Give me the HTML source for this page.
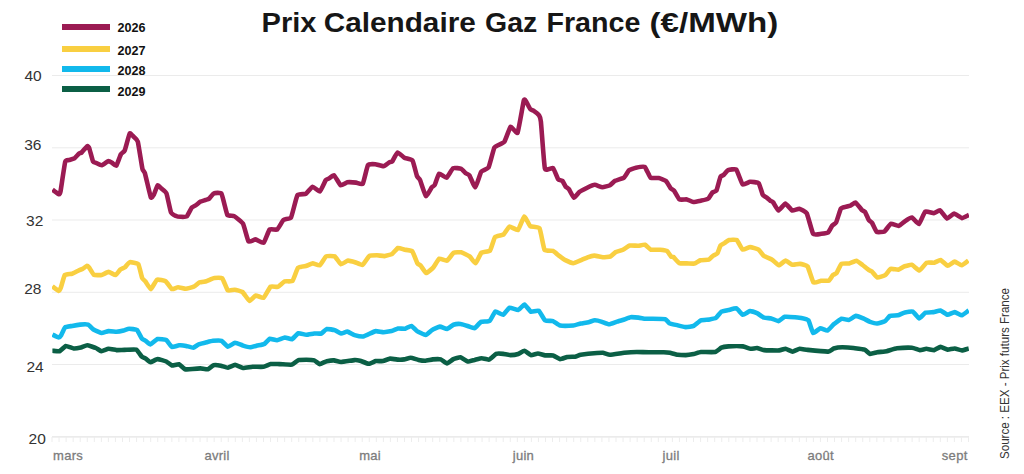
<!DOCTYPE html>
<html><head><meta charset="utf-8"><style>
html,body{margin:0;padding:0;background:#fff;}
body{width:1024px;height:474px;overflow:hidden;}
svg{display:block;font-family:"Liberation Sans",sans-serif;}
.yl{font-size:15.5px;fill:#333;}
.xl{font-size:13px;fill:#7c7c7c;stroke:#7c7c7c;stroke-width:0.3px;letter-spacing:0.3px;}
.lg{font-size:12.5px;font-weight:bold;fill:#111;}
.tt{font-size:27px;font-weight:bold;fill:#161616;}
.src{font-size:13px;fill:#333;}
</style></head><body>
<svg width="1024" height="474" viewBox="0 0 1024 474">
<line x1="52" y1="75.5" x2="969" y2="75.5" stroke="#ebebeb" stroke-width="1"/>
<line x1="52" y1="147.8" x2="969" y2="147.8" stroke="#ebebeb" stroke-width="1"/>
<line x1="52" y1="220.0" x2="969" y2="220.0" stroke="#ebebeb" stroke-width="1"/>
<line x1="52" y1="292.3" x2="969" y2="292.3" stroke="#ebebeb" stroke-width="1"/>
<line x1="52" y1="364.5" x2="969" y2="364.5" stroke="#ebebeb" stroke-width="1"/>
<text x="41.7" y="81.1" class="yl" text-anchor="end">40</text>
<text x="41.4" y="150.3" class="yl" text-anchor="end">36</text>
<text x="43.3" y="225.6" class="yl" text-anchor="end">32</text>
<text x="41.4" y="294.2" class="yl" text-anchor="end">28</text>
<text x="43.7" y="372" class="yl" text-anchor="end">24</text>
<text x="45.8" y="444" class="yl" text-anchor="end">20</text>
<line x1="52" y1="436.8" x2="969" y2="436.8" stroke="#e4e4e4" stroke-width="1.2"/>
<path d="M52.00,437 V442 M59.05,437 V442 M66.10,437 V442 M73.15,437 V442 M80.20,437 V442 M87.25,437 V442 M94.30,437 V442 M101.35,437 V442 M108.40,437 V442 M115.45,437 V442 M122.50,437 V442 M129.55,437 V442 M136.60,437 V442 M143.65,437 V442 M150.70,437 V442 M157.75,437 V442 M164.80,437 V442 M171.85,437 V442 M178.90,437 V442 M185.95,437 V442 M193.00,437 V442 M200.05,437 V442 M207.10,437 V442 M214.15,437 V442 M221.20,437 V442 M228.25,437 V442 M235.30,437 V442 M242.35,437 V442 M249.40,437 V442 M256.45,437 V442 M263.50,437 V442 M270.55,437 V442 M277.60,437 V442 M284.65,437 V442 M291.70,437 V442 M298.75,437 V442 M305.80,437 V442 M312.85,437 V442 M319.90,437 V442 M326.95,437 V442 M334.00,437 V442 M341.05,437 V442 M348.10,437 V442 M355.15,437 V442 M362.20,437 V442 M369.25,437 V442 M376.30,437 V442 M383.35,437 V442 M390.40,437 V442 M397.45,437 V442 M404.50,437 V442 M411.55,437 V442 M418.60,437 V442 M425.65,437 V442 M432.70,437 V442 M439.75,437 V442 M446.80,437 V442 M453.85,437 V442 M460.90,437 V442 M467.95,437 V442 M475.00,437 V442 M482.05,437 V442 M489.10,437 V442 M496.15,437 V442 M503.20,437 V442 M510.25,437 V442 M517.30,437 V442 M524.35,437 V442 M531.40,437 V442 M538.45,437 V442 M545.50,437 V442 M552.55,437 V442 M559.60,437 V442 M566.65,437 V442 M573.70,437 V442 M580.75,437 V442 M587.80,437 V442 M594.85,437 V442 M601.90,437 V442 M608.95,437 V442 M616.00,437 V442 M623.05,437 V442 M630.10,437 V442 M637.15,437 V442 M644.20,437 V442 M651.25,437 V442 M658.30,437 V442 M665.35,437 V442 M672.40,437 V442 M679.45,437 V442 M686.50,437 V442 M693.55,437 V442 M700.60,437 V442 M707.65,437 V442 M714.70,437 V442 M721.75,437 V442 M728.80,437 V442 M735.85,437 V442 M742.90,437 V442 M749.95,437 V442 M757.00,437 V442 M764.05,437 V442 M771.10,437 V442 M778.15,437 V442 M785.20,437 V442 M792.25,437 V442 M799.30,437 V442 M806.35,437 V442 M813.40,437 V442 M820.45,437 V442 M827.50,437 V442 M834.55,437 V442 M841.60,437 V442 M848.65,437 V442 M855.70,437 V442 M862.75,437 V442 M869.80,437 V442 M876.85,437 V442 M883.90,437 V442 M890.95,437 V442 M898.00,437 V442 M905.05,437 V442 M912.10,437 V442 M919.15,437 V442 M926.20,437 V442 M933.25,437 V442 M940.30,437 V442 M947.35,437 V442 M954.40,437 V442 M961.45,437 V442 M968.50,437 V442" stroke="#ededed" stroke-width="1" fill="none"/>
<text x="53.0" y="460" class="xl">mars</text>
<text x="204.4" y="460" class="xl">avril</text>
<text x="359.2" y="460" class="xl">mai</text>
<text x="512.7" y="460" class="xl">juin</text>
<text x="662.5" y="460" class="xl">juil</text>
<text x="807.4" y="460" class="xl">août</text>
<text x="941.8" y="460" class="xl">sept</text>
<defs><clipPath id="pc"><rect x="52" y="0" width="917" height="474"/></clipPath></defs><g clip-path="url(#pc)">
<path d="M52.4,350.7 C52.9,350.7 58.6,351.5 59.5,351.2 C60.4,350.9 64.9,346.2 65.8,346.0 C66.7,345.8 72.7,348.4 73.7,348.5 C74.7,348.6 80.0,347.7 80.9,347.5 C81.8,347.3 86.2,345.3 87.2,345.3 C88.2,345.3 95.0,347.6 95.9,348.0 C96.8,348.4 100.6,351.1 101.4,351.2 C102.2,351.3 107.5,348.9 108.5,348.8 C109.5,348.7 115.4,350.0 116.5,350.1 C117.6,350.2 123.1,349.9 124.4,349.9 C125.7,349.9 135.0,349.1 136.2,349.6 C137.4,350.1 141.2,356.1 141.8,356.7 C142.4,357.3 145.1,358.2 145.7,358.6 C146.3,359.0 149.7,362.2 150.5,362.2 C151.3,362.2 156.5,359.1 157.6,359.1 C158.7,359.1 165.4,361.1 166.3,361.5 C167.2,361.9 171.0,365.2 171.8,365.4 C172.6,365.6 178.1,364.0 179.0,364.3 C179.9,364.6 184.1,368.9 185.0,369.2 C185.9,369.5 191.4,369.1 192.4,369.0 C193.4,368.9 199.3,368.4 200.3,368.4 C201.3,368.4 207.1,369.5 208.0,369.3 C208.9,369.1 212.6,365.4 213.5,365.2 C214.4,365.0 219.8,365.5 220.8,365.7 C221.8,365.9 226.9,367.8 227.9,367.7 C228.9,367.6 234.1,364.9 235.1,364.9 C236.1,364.9 241.8,367.9 243.0,368.0 C244.2,368.1 251.1,366.9 252.5,366.8 C253.9,366.7 262.3,367.0 263.5,366.8 C264.7,366.6 269.6,364.3 270.7,364.1 C271.8,363.9 278.0,364.1 279.4,364.1 C280.8,364.1 290.7,364.9 292.0,364.6 C293.3,364.3 297.4,360.4 298.4,360.1 C299.4,359.8 305.2,359.7 306.3,359.7 C307.4,359.7 313.3,360.1 314.2,360.4 C315.1,360.7 318.9,364.0 319.7,364.1 C320.5,364.2 325.8,361.4 326.8,361.2 C327.8,361.0 333.0,360.3 334.0,360.4 C335.0,360.5 339.7,362.0 341.1,362.0 C342.5,362.0 353.2,360.2 354.5,360.1 C355.8,360.0 359.1,360.5 360.0,360.7 C360.9,360.9 367.6,363.8 368.7,363.8 C369.8,363.8 374.9,361.3 375.8,361.1 C376.7,360.9 381.9,361.3 382.9,361.1 C383.9,360.9 389.1,358.7 390.1,358.6 C391.1,358.5 397.1,359.5 398.0,359.6 C398.9,359.7 403.5,359.5 404.3,359.4 C405.1,359.3 409.7,357.8 410.6,357.8 C411.5,357.8 417.5,359.7 418.5,359.9 C419.5,360.1 423.9,360.7 424.9,360.7 C425.9,360.7 431.7,359.5 432.8,359.4 C433.9,359.3 439.8,359.1 440.7,359.4 C441.6,359.7 446.2,363.4 447.0,363.4 C447.8,363.4 452.5,359.5 453.4,359.1 C454.3,358.7 459.6,357.0 460.5,357.2 C461.4,357.4 466.7,361.3 467.6,361.5 C468.5,361.7 473.8,360.1 474.7,359.9 C475.6,359.7 480.8,358.3 481.8,358.3 C482.8,358.3 488.0,359.9 489.0,359.6 C490.0,359.3 495.2,354.3 496.1,353.9 C497.0,353.5 502.3,353.8 503.2,353.9 C504.1,354.0 509.3,355.1 510.3,355.1 C511.3,355.1 517.3,354.3 518.2,354.0 C519.1,353.7 523.7,350.6 524.5,350.7 C525.3,350.8 529.9,354.9 530.8,355.1 C531.7,355.3 536.9,353.5 537.9,353.5 C538.9,353.5 544.1,355.3 545.1,355.4 C546.1,355.5 552.0,355.2 553.0,355.4 C554.0,355.6 559.2,359.0 560.1,359.1 C561.0,359.2 566.2,357.2 567.2,357.0 C568.2,356.8 574.2,356.8 575.1,356.7 C576.0,356.6 579.4,355.0 580.7,354.8 C582.0,354.6 592.6,353.3 594.1,353.2 C595.6,353.1 601.7,352.7 602.8,352.8 C603.9,352.9 608.5,354.8 609.9,354.8 C611.3,354.8 622.4,353.0 624.2,352.8 C626.0,352.6 635.1,352.0 636.8,352.0 C638.5,352.0 647.7,352.3 649.5,352.3 C651.3,352.3 662.3,352.3 663.7,352.3 C665.1,352.3 669.1,352.6 670.0,352.8 C670.9,353.0 676.8,354.5 677.9,354.7 C679.0,354.9 684.7,355.1 685.8,355.1 C686.9,355.1 692.7,354.2 693.7,354.0 C694.7,353.8 699.5,352.1 700.9,352.0 C702.3,351.9 713.7,352.3 715.1,352.0 C716.5,351.7 720.5,348.1 721.4,347.7 C722.3,347.3 727.1,346.5 728.5,346.4 C729.9,346.3 741.3,346.2 742.8,346.4 C744.3,346.6 749.8,348.7 750.7,348.8 C751.6,348.9 756.1,347.9 757.0,348.0 C757.9,348.1 762.6,349.9 764.1,350.1 C765.6,350.3 777.8,350.5 779.2,350.4 C780.6,350.3 784.6,348.7 785.5,348.8 C786.4,348.9 791.7,351.6 792.6,351.6 C793.5,351.6 798.7,348.9 799.7,348.8 C800.7,348.7 805.8,349.7 807.7,349.9 C809.6,350.1 826.5,351.7 828.2,351.6 C829.9,351.5 832.8,348.8 833.7,348.5 C834.6,348.2 841.1,347.2 842.4,347.2 C843.7,347.2 852.0,347.8 853.5,348.0 C855.0,348.2 863.5,349.2 864.6,349.6 C865.7,350.0 869.3,353.7 870.1,353.9 C870.9,354.1 876.1,352.5 877.2,352.3 C878.3,352.1 885.4,351.5 886.7,351.2 C888.0,350.9 895.3,348.5 897.0,348.3 C898.7,348.1 910.5,347.6 912.0,347.7 C913.5,347.8 918.9,350.0 919.9,350.1 C920.9,350.2 925.3,348.8 926.3,348.8 C927.3,348.8 933.3,350.2 934.2,350.1 C935.1,350.0 939.6,346.9 940.5,346.9 C941.4,346.9 946.7,349.5 947.6,349.6 C948.5,349.7 953.7,348.4 954.7,348.5 C955.7,348.6 961.0,350.4 961.9,350.4 C962.8,350.4 968.2,348.6 968.7,348.5" stroke="#0b5f45" stroke-width="4.6" fill="none" stroke-linejoin="round" stroke-linecap="butt"/>
<path d="M52.4,334.6 C52.8,334.8 58.1,337.4 58.7,337.4 C59.3,337.4 60.7,336.0 61.1,335.3 C61.5,334.6 64.3,328.0 65.0,327.4 C65.7,326.8 71.2,326.1 72.2,325.9 C73.2,325.7 79.0,324.7 80.1,324.6 C81.2,324.5 87.1,324.3 88.0,324.6 C88.9,324.9 92.6,328.9 93.5,329.5 C94.4,330.1 100.4,332.9 101.4,333.0 C102.4,333.1 107.5,331.2 108.5,331.1 C109.5,331.0 115.5,331.7 116.5,331.7 C117.5,331.7 122.8,330.8 123.6,330.6 C124.4,330.4 128.2,328.7 129.1,328.7 C130.0,328.7 136.2,329.4 137.0,330.1 C137.8,330.8 141.2,337.8 141.8,338.5 C142.4,339.2 145.1,340.5 145.7,340.9 C146.3,341.3 149.7,344.5 150.5,344.4 C151.3,344.3 156.5,339.3 157.6,339.0 C158.7,338.7 165.4,339.6 166.3,340.1 C167.2,340.6 171.0,346.6 171.8,346.9 C172.6,347.2 178.0,345.4 179.0,345.3 C180.0,345.2 185.2,345.7 186.1,345.9 C187.0,346.1 192.4,347.8 193.2,347.7 C194.0,347.6 197.9,344.7 198.7,344.4 C199.5,344.1 204.1,342.9 205.0,342.7 C205.9,342.5 211.8,340.9 212.9,340.8 C214.0,340.7 220.6,340.4 221.6,340.8 C222.6,341.2 227.0,346.6 227.9,346.7 C228.8,346.8 234.1,342.8 235.1,342.7 C236.1,342.6 242.0,345.3 243.0,345.6 C244.0,345.9 249.2,347.2 250.1,347.2 C251.0,347.2 256.3,345.8 257.2,345.6 C258.1,345.4 263.5,344.5 264.3,344.0 C265.1,343.5 269.1,339.0 269.9,338.8 C270.7,338.6 276.0,340.4 277.0,340.3 C278.0,340.2 283.9,337.6 284.9,337.5 C285.9,337.4 291.1,339.5 292.0,339.2 C292.9,338.9 297.4,333.5 298.4,333.2 C299.4,332.9 305.2,334.8 306.3,334.8 C307.4,334.8 313.2,333.6 314.2,333.5 C315.2,333.4 320.5,333.8 321.3,333.5 C322.1,333.2 325.9,329.2 326.8,329.0 C327.7,328.8 333.7,329.8 334.7,330.1 C335.7,330.4 340.3,333.4 341.1,333.5 C341.9,333.6 346.5,331.5 347.4,331.6 C348.3,331.7 353.4,334.8 354.5,335.1 C355.6,335.4 362.2,336.6 363.2,336.5 C364.2,336.4 368.7,334.2 369.5,333.8 C370.3,333.4 374.9,331.2 375.8,331.1 C376.7,331.0 382.6,332.2 383.7,332.2 C384.8,332.2 390.6,331.3 391.6,331.1 C392.6,330.9 397.1,328.7 398.0,328.5 C398.9,328.3 404.2,328.9 405.1,328.7 C406.0,328.5 410.6,325.7 411.4,325.9 C412.2,326.1 416.0,330.5 417.0,331.1 C418.0,331.7 424.7,335.0 425.7,334.9 C426.7,334.8 431.1,330.7 432.0,330.1 C432.9,329.5 438.9,326.7 439.9,326.6 C440.9,326.5 446.1,329.1 447.0,329.0 C447.9,328.9 452.5,325.0 453.4,324.7 C454.3,324.4 459.5,323.9 460.5,324.0 C461.5,324.1 467.5,326.0 468.4,326.3 C469.3,326.6 473.9,328.5 474.7,328.2 C475.5,327.9 480.0,322.4 481.0,321.9 C482.0,321.4 488.7,321.5 489.7,320.8 C490.7,320.1 494.4,312.0 495.3,311.6 C496.2,311.2 502.3,315.1 503.2,314.8 C504.1,314.5 508.5,308.0 509.5,307.7 C510.5,307.4 517.2,310.2 518.2,310.0 C519.2,309.8 523.7,304.4 524.5,304.5 C525.3,304.6 529.9,311.2 530.8,311.6 C531.7,312.0 537.7,310.2 538.7,310.8 C539.7,311.4 544.1,319.6 545.1,320.3 C546.1,321.0 552.0,320.8 553.0,321.1 C554.0,321.4 558.7,325.2 560.1,325.5 C561.5,325.8 572.1,325.6 573.5,325.5 C574.9,325.4 579.7,323.7 580.7,323.5 C581.7,323.3 587.7,322.4 588.6,322.2 C589.5,322.0 594.0,320.3 594.9,320.3 C595.8,320.3 601.1,321.6 602.0,321.9 C602.9,322.2 608.1,324.3 609.1,324.3 C610.1,324.3 616.1,321.9 617.1,321.6 C618.1,321.3 623.3,319.8 624.2,319.5 C625.1,319.2 629.6,317.3 630.5,317.2 C631.4,317.1 637.4,317.5 638.4,317.6 C639.4,317.7 644.5,318.6 645.5,318.7 C646.5,318.8 651.4,318.7 652.7,318.7 C654.0,318.7 664.2,318.9 665.3,319.2 C666.4,319.5 668.5,322.8 669.3,323.2 C670.1,323.6 676.8,325.1 677.9,325.4 C679.0,325.7 684.7,327.1 685.8,327.1 C686.9,327.1 692.7,326.4 693.7,325.9 C694.7,325.4 699.8,320.7 700.9,320.3 C702.0,319.9 708.6,319.7 709.6,319.5 C710.6,319.3 715.1,318.4 715.9,317.9 C716.7,317.4 720.6,312.1 721.4,311.6 C722.2,311.1 727.5,310.2 728.5,310.0 C729.5,309.8 735.5,308.1 736.5,308.4 C737.5,308.7 741.9,314.6 742.8,314.8 C743.7,315.0 749.0,311.2 749.9,311.1 C750.8,311.0 756.1,312.8 757.0,313.2 C757.9,313.6 763.1,317.3 764.1,317.6 C765.1,317.9 770.3,318.2 771.3,318.4 C772.3,318.6 777.5,321.2 778.4,321.1 C779.3,321.0 783.6,317.1 784.7,316.8 C785.8,316.5 793.9,317.1 795.0,317.2 C796.1,317.3 800.4,317.7 801.3,317.9 C802.2,318.1 807.6,319.3 808.4,320.3 C809.2,321.3 812.4,332.5 813.2,333.0 C814.0,333.5 819.4,328.4 820.3,328.2 C821.2,328.0 826.5,330.9 827.4,330.6 C828.3,330.3 832.8,325.1 833.7,324.3 C834.6,323.5 840.6,319.0 841.6,318.7 C842.6,318.4 847.7,320.2 848.7,320.0 C849.7,319.8 854.9,316.0 855.9,315.9 C856.9,315.8 862.9,318.3 863.8,318.7 C864.7,319.1 869.2,321.6 870.1,321.9 C871.0,322.2 876.2,323.6 877.2,323.5 C878.2,323.4 884.3,321.6 885.1,321.1 C885.9,320.6 889.1,316.3 889.9,315.9 C890.7,315.5 896.8,315.5 897.8,315.3 C898.8,315.1 903.9,312.6 904.9,312.4 C905.9,312.2 911.9,311.2 912.8,311.6 C913.7,312.0 918.3,318.3 919.1,318.4 C919.9,318.5 924.5,313.1 925.5,312.7 C926.5,312.3 932.4,312.2 933.4,312.1 C934.4,312.0 939.6,310.3 940.5,310.5 C941.4,310.7 946.7,314.7 947.6,314.8 C948.5,314.9 953.7,312.1 954.7,312.1 C955.7,312.1 961.0,315.4 961.9,315.3 C962.8,315.2 968.2,310.8 968.7,310.5" stroke="#12b9ec" stroke-width="4.6" fill="none" stroke-linejoin="round" stroke-linecap="butt"/>
<path d="M52.3,286.3 C52.7,286.6 58.0,290.8 58.6,290.9 C59.2,291.0 60.5,288.6 60.9,287.5 C61.3,286.4 64.1,275.9 64.8,275.0 C65.5,274.1 71.0,274.1 71.9,273.8 C72.8,273.5 78.2,270.6 78.9,270.3 C79.6,270.0 82.3,269.1 82.8,268.8 C83.3,268.5 86.3,266.0 86.7,265.9 C87.1,265.8 88.6,266.9 89.1,267.5 C89.6,268.1 93.0,274.2 93.8,274.7 C94.6,275.2 100.6,275.2 101.6,275.0 C102.6,274.8 107.7,271.9 108.6,271.9 C109.5,271.9 114.8,275.2 115.6,275.0 C116.4,274.8 119.7,270.0 120.3,269.5 C120.9,269.0 124.4,267.7 125.0,267.2 C125.6,266.7 128.8,262.4 129.7,262.2 C130.6,262.0 137.5,263.0 138.3,264.1 C139.1,265.2 141.7,277.0 142.2,278.1 C142.7,279.2 144.7,280.6 145.3,281.3 C145.9,282.0 150.0,289.2 150.8,289.1 C151.6,289.0 156.0,280.2 157.0,279.7 C158.0,279.2 164.6,280.7 165.6,281.3 C166.6,281.9 171.1,288.7 171.9,289.1 C172.7,289.5 177.2,287.2 178.1,287.2 C179.0,287.2 184.9,288.8 185.9,288.8 C186.9,288.8 192.9,287.1 193.8,286.7 C194.7,286.3 198.4,282.9 199.2,282.5 C200.0,282.1 205.6,281.5 206.3,281.3 C207.0,281.1 209.5,279.9 210.0,279.7 C210.5,279.5 213.6,278.1 214.4,278.0 C215.2,277.9 221.3,277.5 222.2,278.3 C223.1,279.1 226.9,289.5 227.7,290.3 C228.5,291.1 233.7,289.6 234.7,289.7 C235.7,289.8 241.5,291.3 242.5,292.0 C243.5,292.7 248.6,300.7 249.5,300.9 C250.4,301.1 254.9,295.7 255.8,295.5 C256.7,295.3 262.6,298.4 263.6,297.8 C264.6,297.2 269.7,287.3 270.6,286.6 C271.5,285.9 276.8,287.2 277.7,286.9 C278.6,286.6 283.7,281.8 284.7,281.4 C285.7,281.0 291.6,281.8 292.5,280.9 C293.4,280.0 297.1,268.8 298.0,267.8 C298.9,266.8 305.6,266.1 306.6,265.8 C307.6,265.5 311.9,263.4 312.8,263.4 C313.7,263.4 318.9,265.8 319.8,265.3 C320.7,264.8 325.1,257.0 326.1,256.4 C327.1,255.8 333.7,255.9 334.7,256.4 C335.7,256.9 340.0,263.9 340.9,264.2 C341.8,264.5 347.1,260.7 348.0,260.6 C348.9,260.5 354.0,261.9 355.0,262.2 C356.0,262.5 361.5,265.3 362.5,264.9 C363.5,264.5 368.3,256.6 369.3,256.0 C370.3,255.4 375.9,255.3 376.9,255.3 C377.9,255.3 383.5,256.2 384.5,256.1 C385.5,256.0 391.2,254.4 392.1,253.9 C393.0,253.4 397.2,248.3 398.0,248.0 C398.8,247.7 403.7,249.5 404.7,249.7 C405.7,249.9 411.5,250.5 412.3,251.4 C413.1,252.3 416.8,262.2 417.4,263.2 C418.0,264.2 420.2,265.1 420.8,265.8 C421.4,266.5 425.4,272.9 426.2,273.0 C427.0,273.1 432.5,268.4 433.4,267.4 C434.3,266.4 438.4,259.1 439.3,258.7 C440.2,258.3 445.9,261.1 446.9,260.7 C447.9,260.3 452.7,253.4 453.7,252.8 C454.7,252.2 460.2,252.1 461.3,252.3 C462.4,252.5 468.7,255.8 469.7,256.5 C470.7,257.2 474.8,263.5 475.6,263.2 C476.4,262.9 480.5,253.4 481.5,252.6 C482.5,251.8 489.1,251.6 490.0,250.6 C490.9,249.6 494.1,238.2 495.0,237.1 C495.9,236.0 502.5,235.2 503.5,234.5 C504.5,233.8 508.4,226.9 509.4,226.6 C510.4,226.3 517.0,230.7 518.0,230.0 C519.0,229.3 523.5,216.8 524.3,216.5 C525.1,216.2 529.2,225.3 530.2,226.1 C531.2,226.9 538.5,226.7 539.5,228.3 C540.5,229.9 543.6,248.2 544.5,249.7 C545.4,251.2 552.0,250.5 553.0,250.9 C554.0,251.3 558.1,255.0 558.9,255.6 C559.7,256.2 563.8,259.4 564.8,259.9 C565.8,260.4 572.1,263.2 573.2,263.2 C574.3,263.2 580.7,260.3 581.7,259.9 C582.7,259.5 586.8,257.6 587.6,257.3 C588.4,257.0 593.3,255.6 594.3,255.6 C595.3,255.6 601.7,257.2 602.8,257.3 C603.9,257.4 609.6,256.8 610.4,256.5 C611.2,256.2 614.6,252.8 615.4,252.3 C616.2,251.8 622.0,250.2 623.0,249.7 C624.0,249.2 628.8,245.8 629.8,245.5 C630.8,245.2 637.2,245.9 638.2,245.8 C639.2,245.7 644.2,244.4 645.0,244.7 C645.8,245.0 649.9,249.4 650.9,249.7 C651.9,250.0 659.0,249.6 660.1,249.7 C661.2,249.8 666.2,250.4 666.9,250.9 C667.6,251.4 670.7,256.1 671.1,256.5 C671.5,256.9 672.9,256.5 673.4,256.9 C673.9,257.3 678.4,262.7 679.3,263.1 C680.2,263.5 685.9,263.4 686.9,263.4 C687.9,263.4 693.6,263.8 694.5,263.6 C695.4,263.4 699.4,260.5 700.4,260.2 C701.4,259.9 708.0,260.0 708.8,259.7 C709.6,259.4 712.4,256.2 713.0,255.8 C713.6,255.4 716.8,254.2 717.3,253.5 C717.8,252.8 720.1,246.1 720.6,245.4 C721.1,244.7 724.3,243.2 724.9,242.8 C725.5,242.4 728.3,240.2 729.1,240.0 C729.9,239.8 735.8,239.4 736.7,240.0 C737.6,240.6 741.7,249.1 742.6,249.6 C743.5,250.1 749.1,247.1 750.2,247.1 C751.3,247.1 757.7,249.0 758.6,249.6 C759.5,250.2 762.8,255.1 763.7,255.8 C764.6,256.5 771.1,259.1 772.1,259.7 C773.1,260.3 778.0,265.2 778.9,265.3 C779.8,265.4 784.7,260.6 785.6,260.6 C786.5,260.6 791.4,264.6 792.4,264.8 C793.4,265.0 799.0,263.8 800.0,263.9 C801.0,264.0 806.7,265.3 807.6,266.5 C808.5,267.7 812.6,281.5 813.5,282.5 C814.4,283.5 820.0,280.9 821.0,280.8 C822.0,280.7 828.1,281.0 828.9,280.6 C829.7,280.2 832.3,275.7 832.8,275.2 C833.3,274.7 836.1,273.6 836.7,272.8 C837.3,272.0 840.6,264.4 841.4,263.8 C842.2,263.2 848.2,263.6 849.2,263.4 C850.2,263.2 855.4,260.7 856.3,260.8 C857.2,260.9 861.7,264.4 862.5,265.0 C863.3,265.6 868.2,269.6 868.8,270.0 C869.4,270.4 871.3,271.1 871.9,271.6 C872.5,272.1 876.4,277.3 877.3,277.5 C878.2,277.7 884.3,275.8 885.2,275.2 C886.1,274.6 889.7,269.3 890.6,268.9 C891.5,268.5 897.5,269.9 898.4,269.7 C899.3,269.5 903.8,266.6 904.7,266.3 C905.6,266.0 910.7,264.4 911.7,264.7 C912.7,265.0 918.5,270.6 919.5,270.5 C920.5,270.4 925.6,263.2 926.6,262.7 C927.6,262.2 933.5,262.9 934.4,262.7 C935.3,262.5 939.7,259.8 940.6,260.0 C941.5,260.2 946.8,265.7 947.7,265.8 C948.6,265.9 953.8,261.6 954.7,261.6 C955.6,261.6 960.8,265.4 961.7,265.3 C962.6,265.2 968.0,260.9 968.4,260.6" stroke="#f9cf41" stroke-width="4.6" fill="none" stroke-linejoin="round" stroke-linecap="butt"/>
<path d="M52.5,189.7 C52.9,190.0 58.4,194.2 58.9,194.3 C59.4,194.4 60.2,193.2 60.6,191.0 C61.0,188.8 64.6,164.0 65.2,161.9 C65.8,159.8 68.4,160.3 69.0,160.1 C69.6,159.9 73.3,159.0 74.0,158.6 C74.7,158.2 78.6,153.9 79.1,153.5 C79.6,153.1 81.1,153.0 81.6,152.5 C82.1,152.0 86.7,146.5 87.2,146.2 C87.7,145.9 88.8,147.0 89.2,148.0 C89.6,149.0 92.5,160.4 93.0,161.4 C93.5,162.4 96.2,162.9 96.8,163.2 C97.4,163.5 101.1,165.3 101.9,165.2 C102.7,165.1 107.5,161.3 108.2,161.1 C108.9,160.9 111.5,162.4 112.0,162.7 C112.5,163.0 115.7,166.3 116.3,165.7 C116.9,165.1 120.3,155.3 120.9,154.3 C121.5,153.3 124.1,151.9 124.7,150.5 C125.3,149.1 129.1,134.4 129.7,133.5 C130.3,132.6 133.0,136.1 133.5,136.6 C134.0,137.1 137.2,139.5 137.8,141.6 C138.4,143.7 141.9,166.6 142.4,168.7 C142.9,170.8 144.3,171.4 144.9,173.3 C145.5,175.2 150.2,195.9 150.8,197.3 C151.4,198.7 153.3,195.6 153.8,194.8 C154.3,194.0 157.1,185.6 157.6,185.2 C158.1,184.8 160.8,187.9 161.4,188.5 C162.0,189.1 165.9,191.9 166.5,193.5 C167.1,195.1 170.4,211.0 171.0,212.5 C171.6,214.0 175.4,215.7 176.0,216.0 C176.6,216.3 179.7,216.8 180.4,216.8 C181.1,216.8 185.9,217.1 186.7,216.5 C187.5,215.9 191.2,208.2 191.8,207.5 C192.4,206.8 195.0,205.8 195.6,205.4 C196.2,205.0 199.9,202.0 200.6,201.6 C201.3,201.2 205.2,200.1 205.7,199.9 C206.2,199.7 208.3,199.3 208.8,198.9 C209.3,198.5 213.1,193.6 213.9,193.3 C214.7,193.0 220.6,192.4 221.5,193.8 C222.4,195.2 226.5,213.3 227.3,214.8 C228.1,216.3 233.1,215.5 234.1,216.1 C235.1,216.7 242.0,222.0 243.0,223.7 C244.0,225.4 247.7,240.4 248.5,241.4 C249.3,242.4 254.6,239.3 255.6,239.4 C256.6,239.5 262.8,243.4 263.7,242.7 C264.6,242.0 268.7,230.4 269.6,229.5 C270.5,228.6 276.3,230.1 277.2,229.5 C278.1,228.9 282.6,220.7 283.5,219.9 C284.4,219.1 290.2,218.9 291.1,217.3 C292.0,215.7 296.4,196.9 297.4,195.3 C298.4,193.7 304.9,194.4 305.9,193.8 C306.9,193.2 311.7,186.9 312.6,186.7 C313.5,186.5 319.0,191.8 319.9,191.4 C320.8,191.0 325.2,180.9 325.8,180.0 C326.4,179.1 328.3,178.9 328.8,178.6 C329.3,178.3 333.2,174.8 334.0,175.2 C334.8,175.6 339.7,184.7 340.6,185.2 C341.5,185.7 346.3,182.5 347.3,182.3 C348.3,182.1 355.1,182.5 356.1,182.6 C357.1,182.7 362.0,184.9 362.8,183.7 C363.6,182.5 367.1,166.6 367.9,165.3 C368.7,164.0 374.3,164.1 375.3,164.2 C376.3,164.3 382.6,166.4 383.5,166.3 C384.4,166.2 388.8,162.6 389.4,162.3 C390.0,162.0 391.8,162.0 392.3,161.3 C392.8,160.6 396.7,152.6 397.5,152.4 C398.3,152.2 403.4,157.1 404.4,157.7 C405.4,158.3 411.8,159.5 412.6,160.7 C413.4,161.9 416.5,174.9 417.0,176.2 C417.5,177.5 419.4,178.6 420.0,179.9 C420.6,181.2 425.1,195.6 425.9,196.1 C426.7,196.6 431.2,188.0 431.8,187.3 C432.4,186.6 434.2,185.9 434.7,185.0 C435.2,184.1 438.3,174.2 439.1,173.7 C439.9,173.2 445.6,178.1 446.5,177.7 C447.4,177.3 452.2,168.7 453.2,168.1 C454.2,167.5 460.5,168.5 461.3,168.8 C462.1,169.1 465.2,172.8 465.7,173.2 C466.2,173.6 468.8,174.5 469.4,175.4 C470.0,176.3 474.5,187.5 475.3,187.3 C476.1,187.1 480.3,173.1 481.2,171.8 C482.1,170.5 487.7,168.9 488.6,167.3 C489.5,165.7 493.5,149.1 494.5,147.4 C495.5,145.7 503.2,143.3 504.3,141.9 C505.4,140.5 509.7,127.3 510.6,126.7 C511.5,126.1 516.7,134.4 517.6,132.6 C518.5,130.8 523.3,102.2 523.9,100.2 C524.5,98.2 526.1,101.6 526.5,102.2 C526.9,102.8 529.8,108.5 530.3,109.1 C530.8,109.7 533.5,110.7 534.1,111.1 C534.7,111.5 538.6,114.7 539.1,115.4 C539.6,116.1 540.5,118.2 540.9,121.7 C541.3,125.2 544.1,165.4 544.9,168.5 C545.7,171.6 552.1,167.3 553.0,168.0 C553.9,168.7 557.5,178.3 558.1,179.2 C558.7,180.1 562.0,180.5 562.5,181.0 C563.0,181.5 565.3,186.2 565.7,186.7 C566.1,187.2 568.4,188.5 568.9,189.2 C569.4,189.9 573.2,197.6 573.9,197.8 C574.6,198.0 578.7,192.5 579.6,191.8 C580.5,191.1 586.2,188.2 587.2,187.7 C588.2,187.2 593.8,184.8 594.8,184.8 C595.8,184.8 601.4,187.3 602.4,187.3 C603.4,187.3 609.2,185.6 610.0,185.2 C610.8,184.8 614.2,181.3 615.1,180.8 C616.0,180.3 623.0,178.3 623.9,177.6 C624.8,176.9 628.2,171.0 629.0,170.3 C629.8,169.6 634.9,167.9 636.0,167.7 C637.1,167.5 643.8,166.3 644.8,167.0 C645.8,167.7 649.6,176.9 650.5,177.6 C651.4,178.3 657.7,177.9 658.7,178.1 C659.7,178.3 665.2,180.2 666.0,180.9 C666.8,181.6 670.2,187.7 670.7,188.4 C671.2,189.1 673.5,190.0 674.1,190.7 C674.7,191.4 678.5,198.8 679.4,199.4 C680.3,200.0 686.0,199.2 686.9,199.4 C687.8,199.6 692.3,201.9 693.3,202.0 C694.3,202.1 700.4,200.8 701.4,200.6 C702.4,200.4 707.7,199.0 708.4,198.5 C709.1,198.0 711.9,193.0 712.4,192.5 C712.9,192.0 716.0,191.4 716.5,190.4 C717.0,189.4 720.0,177.8 720.5,176.8 C721.0,175.8 722.9,175.5 723.4,175.1 C723.9,174.7 727.2,170.6 728.1,170.2 C729.0,169.8 735.2,168.6 736.2,169.5 C737.2,170.4 741.7,183.6 742.6,184.4 C743.5,185.2 749.0,181.9 750.1,181.8 C751.2,181.7 757.9,182.3 758.7,183.2 C759.5,184.1 762.3,194.0 762.8,194.9 C763.3,195.8 765.7,196.8 766.2,197.2 C766.7,197.6 769.8,200.4 770.3,200.7 C770.8,201.0 772.7,201.7 773.2,202.4 C773.7,203.1 777.6,210.4 778.4,210.5 C779.2,210.6 784.5,203.6 785.4,203.6 C786.3,203.6 791.4,210.2 792.3,210.5 C793.2,210.8 798.3,208.6 799.3,208.8 C800.3,209.0 805.9,211.7 806.8,213.4 C807.7,215.1 812.2,232.6 813.2,234.0 C814.2,235.4 820.3,233.9 821.3,233.8 C822.3,233.7 827.6,232.8 828.3,232.3 C829.0,231.8 831.7,226.3 832.2,225.6 C832.7,224.9 835.5,223.6 836.1,222.5 C836.7,221.4 840.2,209.8 840.8,208.8 C841.4,207.8 844.8,207.1 845.5,206.9 C846.2,206.7 850.2,205.6 850.9,205.3 C851.6,205.0 854.9,202.2 855.6,202.5 C856.3,202.8 861.3,209.4 861.9,210.0 C862.5,210.6 864.5,211.2 865.0,211.9 C865.5,212.6 868.4,219.5 868.9,220.2 C869.4,220.9 871.5,222.0 872.0,222.8 C872.5,223.6 875.9,231.3 876.7,231.9 C877.5,232.5 883.6,231.9 884.5,231.4 C885.4,230.9 889.9,224.2 890.8,223.8 C891.7,223.4 897.7,226.1 898.6,225.9 C899.5,225.7 903.9,221.9 904.8,221.3 C905.7,220.7 911.0,217.3 911.9,217.5 C912.8,217.7 918.0,224.5 918.9,224.1 C919.8,223.7 924.2,212.3 925.2,211.6 C926.2,210.9 932.8,213.2 933.8,213.1 C934.8,213.0 939.1,209.9 940.0,210.3 C940.9,210.7 946.1,218.4 947.0,218.6 C947.9,218.8 953.1,213.6 954.1,213.6 C955.1,213.6 960.9,218.0 961.9,218.1 C962.9,218.2 968.4,215.2 968.9,215.0" stroke="#9b1b53" stroke-width="4.6" fill="none" stroke-linejoin="round" stroke-linecap="butt"/>
</g>
<rect x="62" y="24" width="48" height="6" fill="#9b1b53"/>
<text x="117.5" y="32.2" class="lg" textLength="28" lengthAdjust="spacingAndGlyphs">2026</text>
<rect x="62" y="46" width="48" height="6" fill="#f9cf41"/>
<text x="117.5" y="55.0" class="lg" textLength="28" lengthAdjust="spacingAndGlyphs">2027</text>
<rect x="62" y="66" width="48" height="6" fill="#12b9ec"/>
<text x="117.5" y="74.6" class="lg" textLength="28" lengthAdjust="spacingAndGlyphs">2028</text>
<rect x="62" y="86" width="48" height="6" fill="#0b5f45"/>
<text x="117.5" y="95.7" class="lg" textLength="28" lengthAdjust="spacingAndGlyphs">2029</text>
<text x="261.6" y="32" class="tt" textLength="54.9" lengthAdjust="spacingAndGlyphs">Prix</text>
<text x="323.7" y="32" class="tt" textLength="152.1" lengthAdjust="spacingAndGlyphs">Calendaire</text>
<text x="485.0" y="32" class="tt" textLength="52.2" lengthAdjust="spacingAndGlyphs">Gaz</text>
<text x="546.4" y="32" class="tt" textLength="94.0" lengthAdjust="spacingAndGlyphs">France</text>
<text x="649.5" y="32" class="tt" textLength="128.8" lengthAdjust="spacingAndGlyphs">(€/MWh)</text>
<text transform="translate(1009,459) rotate(-90)" class="src" textLength="171" lengthAdjust="spacingAndGlyphs">Source : EEX - Prix futurs France</text>
</svg>
</body></html>
